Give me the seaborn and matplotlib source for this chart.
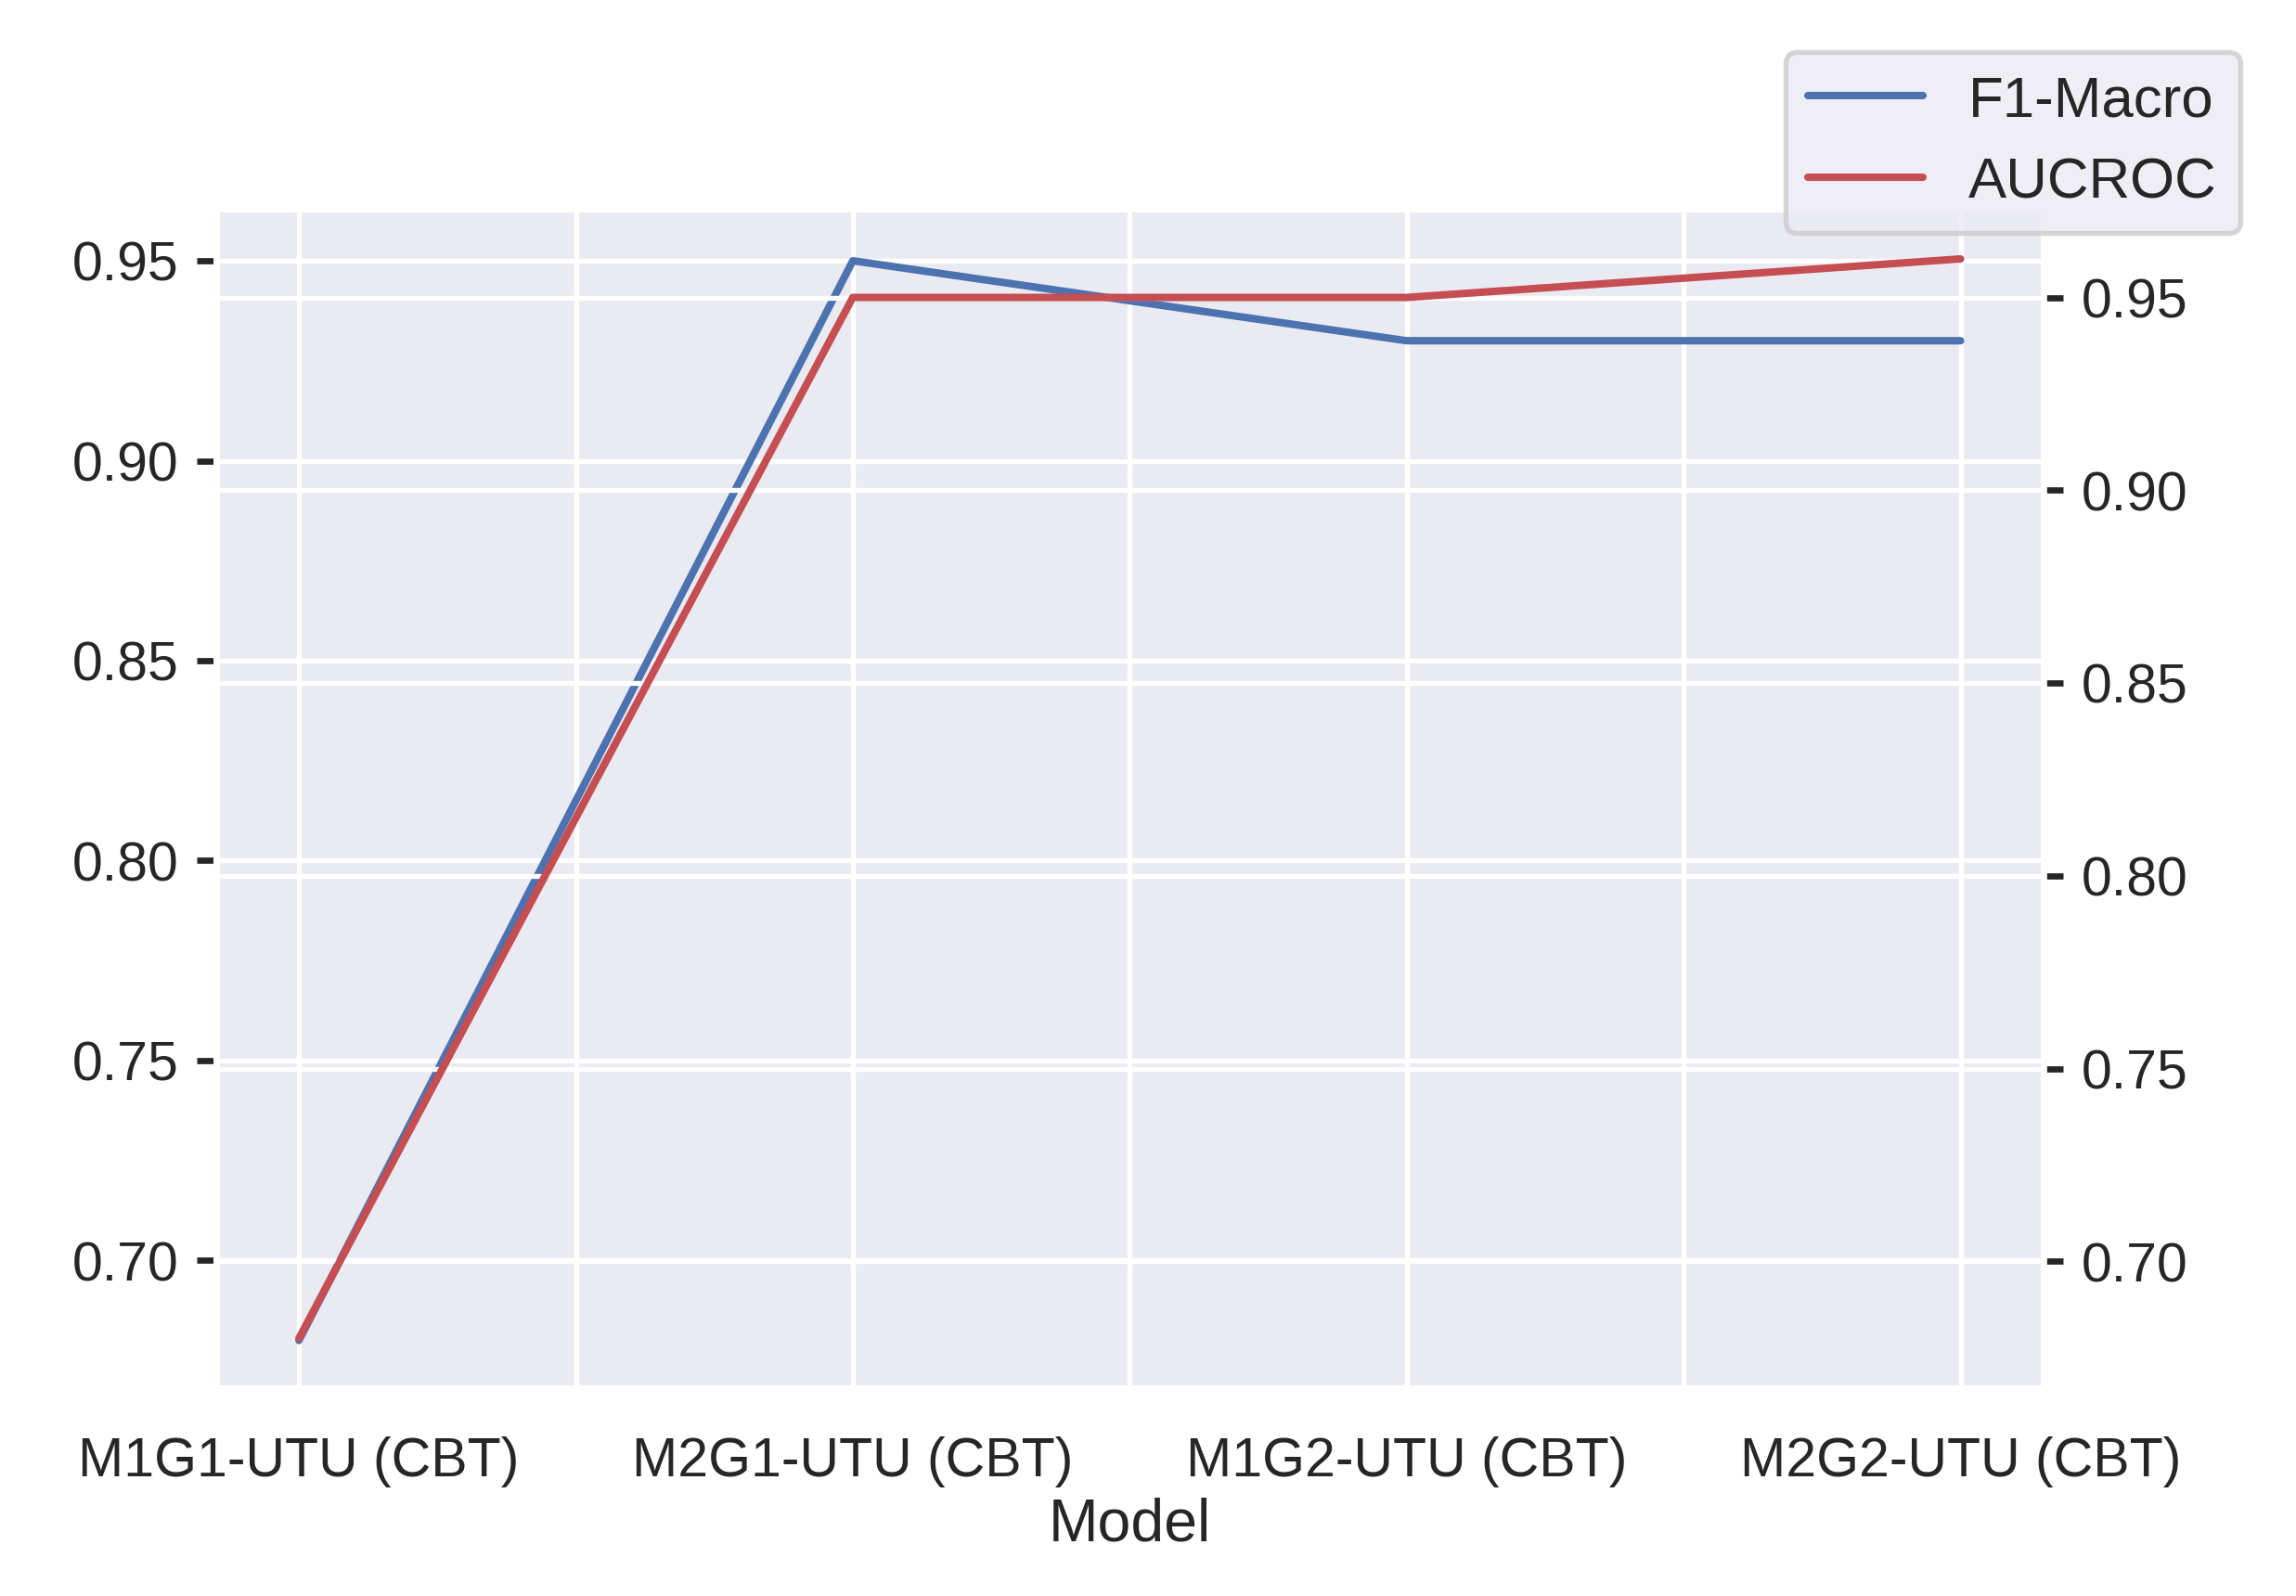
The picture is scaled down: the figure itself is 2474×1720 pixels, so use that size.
import matplotlib
matplotlib.use("Agg")
import matplotlib.pyplot as plt
import seaborn as sns
import pandas as pd

models = ["M1G1-UTU (CBT)", "M2G1-UTU (CBT)", "M1G2-UTU (CBT)", "M2G2-UTU (CBT)"]
f1_macro = [0.68, 0.95, 0.93, 0.93]
aucroc = [0.68, 0.95, 0.95, 0.96]

sns.set_theme(style="darkgrid")
plt.rcParams['font.family'] = ['Liberation Sans', 'DejaVu Sans']
df = pd.DataFrame({"Model": models, "F1-Macro": f1_macro, "AUCROC": aucroc})

fig = plt.figure(figsize=(6.4, 4.45), dpi=386.6)
ax = fig.add_axes([0.094, 0.130, 0.796, 0.739])
sns.lineplot(data=df, x="Model", y="F1-Macro", ax=ax, color="#4c72b0", label="F1-Macro", legend=False, sort=False)
ax2 = ax.twinx()
sns.lineplot(data=df, x="Model", y="AUCROC", ax=ax2, color="#c44e52", label="AUCROC", legend=False, sort=False)
ax.set_ylim(0.668, 0.963)
ax2.set_ylim(0.667, 0.973)
ax.set_yticks([0.70, 0.75, 0.80, 0.85, 0.90, 0.95])
ax2.set_yticks([0.70, 0.75, 0.80, 0.85, 0.90, 0.95])
ax.set_xticks([0.5, 1.5, 2.5], minor=True)
ax.grid(which="minor", axis="x", color="white", linewidth=1)
ax.tick_params(axis="x", which="minor", bottom=False)
ax.set_ylabel("")
ax2.set_ylabel("")
ax.set_xlabel("Model", labelpad=2)
ax.tick_params(axis="both", labelsize=11)
ax2.tick_params(axis="both", labelsize=11)
ax.tick_params(axis="y", left=True, length=4, color="#262626")
ax2.tick_params(axis="y", right=True, length=4, color="#262626")
h1, l1 = ax.get_legend_handles_labels()
h2, l2 = ax2.get_legend_handles_labels()
fig.legend(h1 + h2, l1 + l2, loc="upper right", bbox_to_anchor=(0.988, 0.985), fontsize=11.5)
fig.savefig("out.png", dpi=386.6)
